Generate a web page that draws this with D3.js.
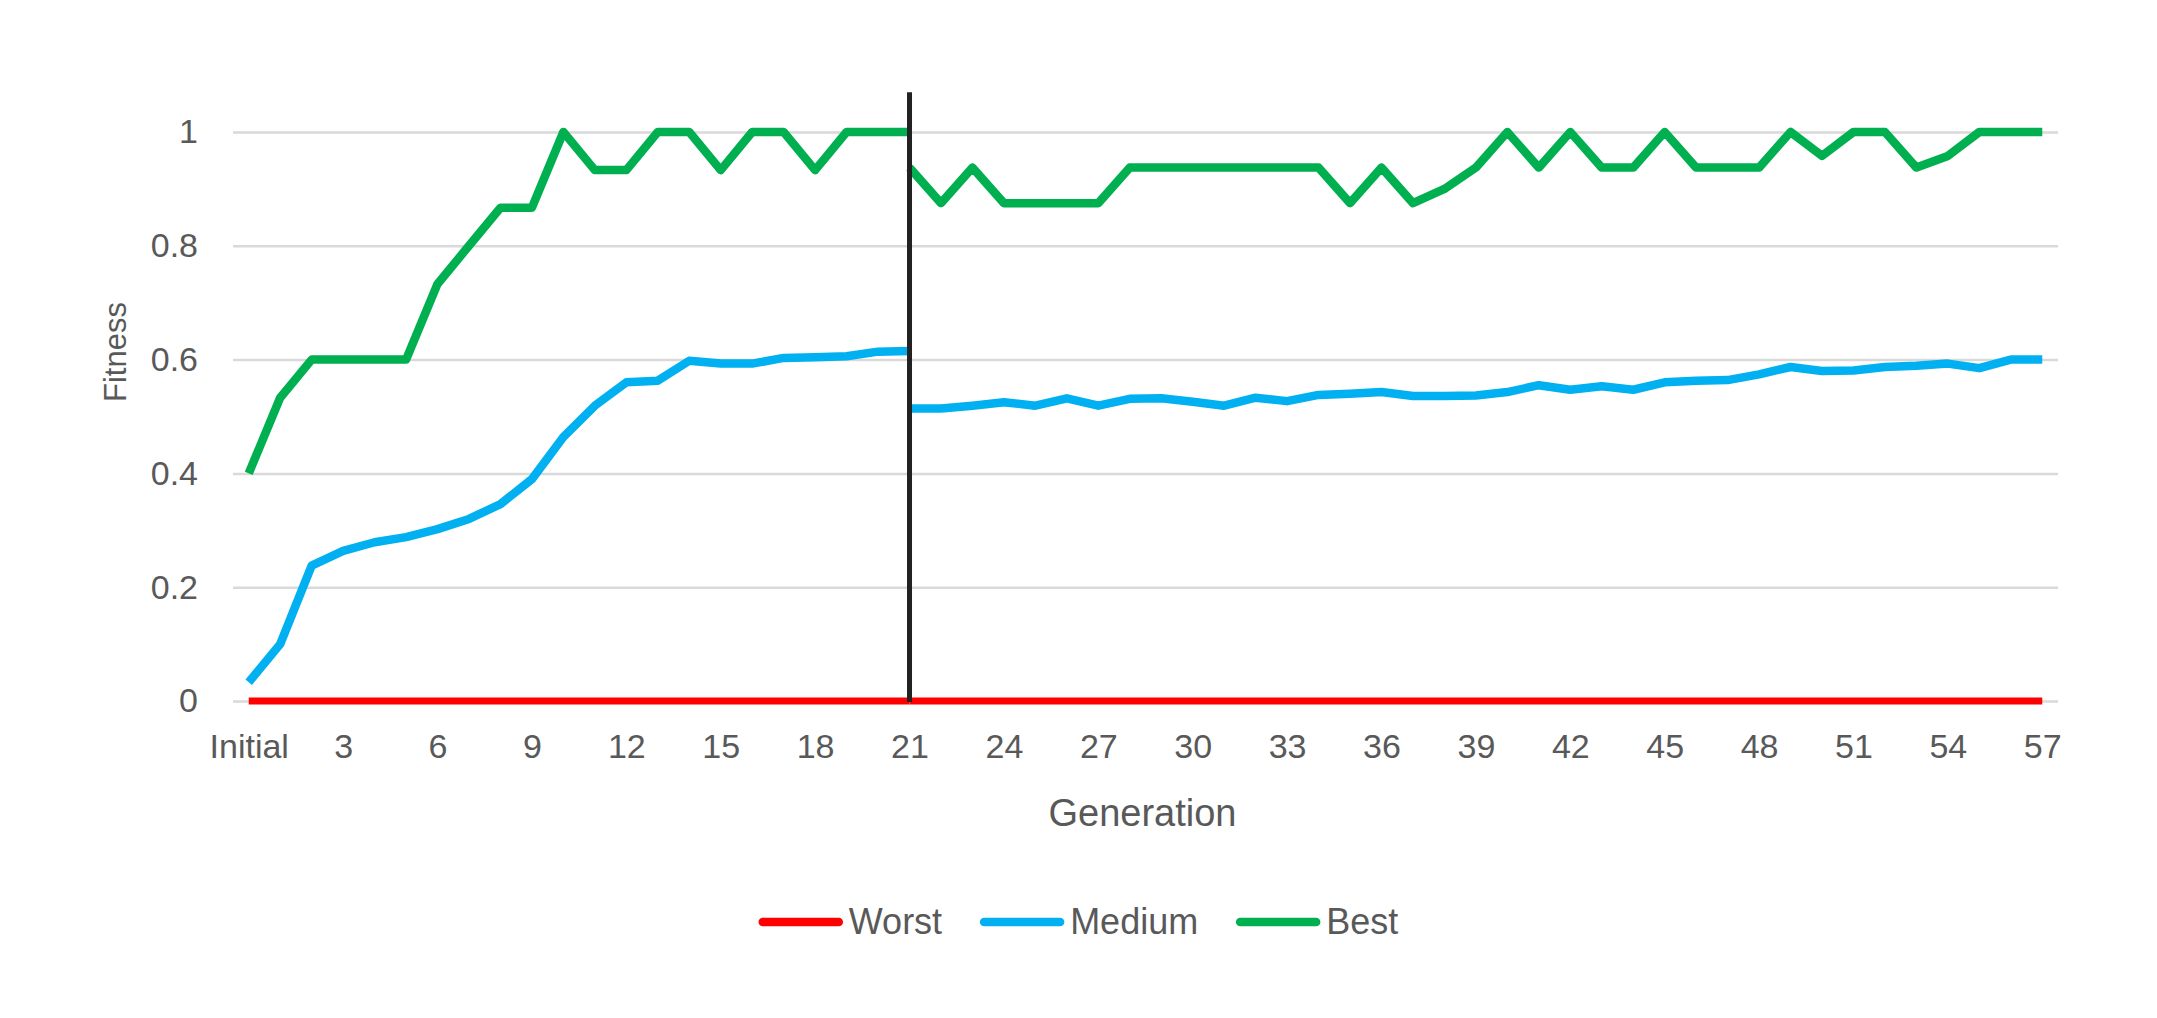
<!DOCTYPE html>
<html>
<head>
<meta charset="utf-8">
<script src="https://cdn.jsdelivr.net/npm/d3@7"></script>
<style>
body { margin: 0; background: #fff; }
text { font-family: "Liberation Sans", Arial, sans-serif; fill: #595959; }
</style>
</head>
<body>
<script>
const width = 2157;
const height = 1018;

const generations = ["Initial", "1", "2", "3", "4", "5", "6", "7", "8", "9", "10",
  "11", "12", "13", "14", "15", "16", "17", "18", "19", "20",
  "21", "22", "23", "24", "25", "26", "27", "28", "29", "30",
  "31", "32", "33", "34", "35", "36", "37", "38", "39", "40",
  "41", "42", "43", "44", "45", "46", "47", "48", "49", "50",
  "51", "52", "53", "54", "55", "56", "57"];
const xTickLabels = ["Initial", "3", "6", "9", "12", "15", "18", "21", "24", "27",
  "30", "33", "36", "39", "42", "45", "48", "51", "54", "57"];
const yTicks = [0, 0.2, 0.4, 0.6, 0.8, 1];

// the run restarts at generation 21, so each series is in two pieces
const breakAt = "21";
const markerTop = 1.07;

// Initial .. 21
const worstBefore = [0, 0, 0, 0, 0, 0, 0, 0, 0, 0, 0, 0, 0, 0, 0, 0, 0, 0, 0, 0, 0, 0];
const mediumBefore = [0.033, 0.1, 0.238, 0.264, 0.279, 0.288, 0.302, 0.32, 0.346, 0.39, 0.464,
  0.519, 0.56, 0.563, 0.598, 0.593, 0.593, 0.603, 0.604, 0.606, 0.614, 0.615];
const bestBefore = [0.4, 0.533, 0.6, 0.6, 0.6, 0.6, 0.733, 0.8, 0.867, 0.867, 1,
  0.933, 0.933, 1, 1, 0.933, 1, 1, 0.933, 1, 1, 1];

// 21 .. 57
const worstAfter = [0, 0, 0, 0, 0, 0, 0, 0, 0, 0, 0, 0, 0, 0, 0, 0, 0, 0, 0,
  0, 0, 0, 0, 0, 0, 0, 0, 0, 0, 0, 0, 0, 0, 0, 0, 0, 0];
const mediumAfter = [0.514, 0.514, 0.519, 0.525, 0.519, 0.532, 0.519, 0.531, 0.532, 0.526,
  0.519, 0.533, 0.527, 0.538, 0.54, 0.543, 0.536, 0.536, 0.537, 0.543,
  0.555, 0.547, 0.553, 0.547, 0.56, 0.563, 0.564, 0.574, 0.587, 0.58,
  0.581, 0.587, 0.589, 0.593, 0.585, 0.6, 0.6];
const bestAfter = [0.9375, 0.875, 0.9375, 0.875, 0.875, 0.875, 0.875, 0.9375, 0.9375, 0.9375,
  0.9375, 0.9375, 0.9375, 0.9375, 0.875, 0.9375, 0.875, 0.9, 0.9375, 1,
  0.9375, 1, 0.9375, 0.9375, 1, 0.9375, 0.9375, 0.9375, 1, 0.958,
  1, 1, 0.9375, 0.958, 1, 1, 1];

const seriesNames = ["Worst", "Medium", "Best"];
const seriesColors = ["#ff0000", "#00b0f0", "#00b050"];

const cut = generations.indexOf(breakAt);
const series = [
  { name: "Worst", color: seriesColors[0], w: 7, parts: [worstBefore, worstAfter] },
  { name: "Medium", color: seriesColors[1], w: 8.5, parts: [mediumBefore, mediumAfter] },
  { name: "Best", color: seriesColors[2], w: 8.5, parts: [bestBefore, bestAfter] }
];

const svg = d3.select('body').append('svg')
  .attr('width', width)
  .attr('height', height);

svg.append('rect').attr('width', width).attr('height', height).attr('fill', '#fff');

const plotLeft = 233, plotRight = 2058, plotTop = 132, plotBottom = 701;

const x = d3.scalePoint().domain(generations).range([plotLeft, plotRight]).padding(0.5);
const y = d3.scaleLinear().domain([0, 1]).range([plotBottom, plotTop]);

// y axis with gridlines
const yAxis = svg.append('g')
  .attr('transform', `translate(${plotLeft},0)`)
  .call(d3.axisLeft(y).tickValues(yTicks).tickFormat(d => d)
    .tickSize(-(plotRight - plotLeft)).tickPadding(35));
yAxis.select('.domain').remove();
yAxis.selectAll('.tick line').attr('stroke', '#d9d9d9').attr('stroke-width', 2.5);
yAxis.selectAll('.tick text').attr('font-size', 34).attr('fill', '#595959')
  .style('font-family', '"Liberation Sans", Arial, sans-serif');

// x axis labels
const xAxis = svg.append('g')
  .attr('transform', `translate(0,${plotBottom})`)
  .call(d3.axisBottom(x).tickValues(xTickLabels).tickSize(0).tickPadding(33));
xAxis.select('.domain').remove();
xAxis.selectAll('.tick text').attr('font-size', 34).attr('fill', '#595959')
  .style('font-family', '"Liberation Sans", Arial, sans-serif');

// lines
const line = d3.line()
  .x(d => x(d.g))
  .y(d => y(d.v));

series.forEach(s => {
  s.parts.forEach((vals, i) => {
    const gens = i === 0 ? generations.slice(0, cut + 1) : generations.slice(cut);
    const pts = vals.map((v, j) => ({ g: gens[j], v: v }));
    svg.append('path')
      .datum(pts)
      .attr('d', line)
      .attr('fill', 'none')
      .attr('stroke', s.color)
      .attr('stroke-width', s.w)
      .attr('stroke-linejoin', 'round');
  });
});

// restart marker
svg.append('line')
  .attr('x1', x(breakAt)).attr('x2', x(breakAt))
  .attr('y1', y(markerTop)).attr('y2', y(0) + 1)
  .attr('stroke', '#222')
  .attr('stroke-width', 5);

// axis titles
svg.append('text')
  .attr('transform', `translate(126,352) rotate(-90)`)
  .attr('text-anchor', 'middle')
  .attr('font-size', 31)
  .text('Fitness');

svg.append('text')
  .attr('x', (plotLeft + plotRight) / 2 - 3)
  .attr('y', 826)
  .attr('text-anchor', 'middle')
  .attr('font-size', 38)
  .text('Generation');

// legend
const legend = svg.append('g');
let lx = 0;
seriesNames.forEach((name, i) => {
  const item = legend.append('g').attr('transform', `translate(${lx},0)`);
  item.append('line')
    .attr('x1', 4).attr('x2', 80)
    .attr('y1', 922).attr('y2', 922)
    .attr('stroke', seriesColors[i])
    .attr('stroke-width', 8.5)
    .attr('stroke-linecap', 'round');
  const t = item.append('text')
    .attr('x', 90)
    .attr('y', 934)
    .attr('font-size', 36)
    .text(name);
  lx += 90 + t.node().getComputedTextLength() + 38;
});
const legendWidth = lx - 38;
legend.attr('transform', `translate(${width / 2 - legendWidth / 2},0)`);
</script>
</body>
</html>
